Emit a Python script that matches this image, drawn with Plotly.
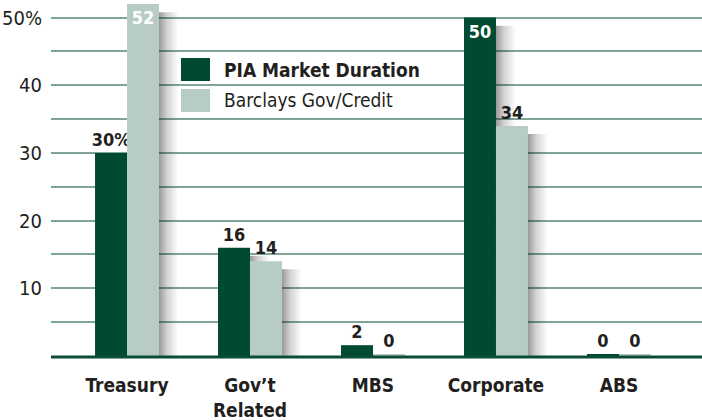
import plotly.graph_objects as go

categories = ["Treasury", "Gov’t<br>Related", "MBS", "Corporate", "ABS"]
pia_values = [30, 16, 1.6, 50, 0.3]
barclays_values = [52, 14, 0.3, 34, 0.3]
pia_labels = ["30%", "16", "2", "50", "0"]
barclays_labels = ["52", "14", "0", "34", "0"]
pia_pos = ["outside", "outside", "outside", "inside", "outside"]
barclays_pos = ["inside", "outside", "outside", "outside", "outside"]
y_tickvals = [5, 10, 15, 20, 25, 30, 35, 40, 45, 50]
y_ticktext = ["", "10", "", "20", "", "30", "", "40", "", "50%"]

DARK = "#004a33"
LIGHT = "#b7ccc5"
TXT = "#231f20"
FONT = "Liberation Sans Narrow, DejaVu Sans Condensed, sans-serif"
BARGAP = 0.48
xpos = list(range(len(categories)))
half = (1 - BARGAP) / 2  # half of a bar pair, in category units

fig = go.Figure()

# soft drop shadows to the right of the bars (derived from the data)
SH_W = 0.16
SH_DROP = 1.2
shade = [[0, "rgba(0,0,0,0.40)"], [0.4, "rgba(0,0,0,0.18)"], [1, "rgba(0,0,0,0)"]]
for i in xpos:
    top = barclays_values[i] - SH_DROP
    if top > 0.5:
        x0 = i + half
        fig.add_trace(go.Scatter(
            x=[x0, x0 + SH_W, x0 + SH_W, x0, x0], y=[0, 0, top, top, 0],
            mode="lines", line=dict(width=0), fill="toself",
            fillgradient=dict(type="horizontal", colorscale=shade, start=x0, stop=x0 + SH_W),
            hoverinfo="skip", showlegend=False))
    top = pia_values[i] - SH_DROP
    if top > barclays_values[i]:
        x0 = i
        fig.add_trace(go.Scatter(
            x=[x0, x0 + SH_W, x0 + SH_W, x0, x0],
            y=[barclays_values[i]] * 2 + [top, top, barclays_values[i]],
            mode="lines", line=dict(width=0), fill="toself",
            fillgradient=dict(type="horizontal", colorscale=shade, start=x0, stop=x0 + SH_W),
            hoverinfo="skip", showlegend=False))

fig.add_trace(go.Bar(
    x=xpos, y=pia_values, name="PIA Market Duration",
    marker=dict(color=DARK, line=dict(width=0)),
    text=pia_labels, textposition=pia_pos, insidetextanchor="end",
    textangle=0, constraintext="none", cliponaxis=False,
    insidetextfont=dict(color="white", size=18, family=FONT, weight="bold"),
    outsidetextfont=dict(color=TXT, size=18, family=FONT, weight="bold"),
    hoverinfo="skip",
))
fig.add_trace(go.Bar(
    x=xpos, y=barclays_values, name="Barclays Gov/Credit",
    marker=dict(color=LIGHT, line=dict(width=0)),
    text=barclays_labels, textposition=barclays_pos, insidetextanchor="end",
    textangle=0, constraintext="none", cliponaxis=False,
    insidetextfont=dict(color="white", size=18, family=FONT, weight="bold"),
    outsidetextfont=dict(color=TXT, size=18, family=FONT, weight="bold"),
    hoverinfo="skip",
))

# legend drawn manually (large swatches)
legend_items = [("<b>PIA Market Duration</b>", DARK), ("Barclays Gov/Credit", LIGHT)]
shapes = []
annotations = []
for i, (label, col) in enumerate(legend_items):
    y0 = 1 - (58 + i * 31) / 356
    y1 = 1 - (81 + i * 31) / 356
    shapes.append(dict(type="rect", xref="paper", yref="paper",
                       x0=(181 - 51) / 651, x1=(210 - 51) / 651, y0=y1, y1=y0,
                       fillcolor=col, line=dict(width=0), layer="above"))
    annotations.append(dict(xref="paper", yref="paper", x=(222 - 51) / 651,
                            y=(y0 + y1) / 2, text=label, showarrow=False,
                            xanchor="left", yanchor="middle",
                            font=dict(size=19, color=TXT, family=FONT)))
# baseline (paper-referenced so it is not clipped)
shapes.append(dict(type="line", xref="paper", yref="paper", x0=0, x1=1,
                   y0=-0.003, y1=-0.003,
                   line=dict(color="#0b4d35", width=3), layer="above"))

fig.update_layout(
    width=702, height=420,
    margin=dict(l=51, r=0, t=0, b=64),
    paper_bgcolor="white", plot_bgcolor="white",
    barmode="group", bargap=BARGAP, bargroupgap=0,
    showlegend=False,
    shapes=shapes, annotations=annotations,
    xaxis=dict(range=[-0.618, 4.675], tickvals=xpos, ticktext=categories,
               showgrid=False, zeroline=False, automargin=False,
               showline=False, ticks="outside", ticklen=12, tickcolor="rgba(0,0,0,0)",
               tickfont=dict(size=19, color=TXT, family=FONT, weight="bold")),
    yaxis=dict(range=[0, 52.6], tickvals=y_tickvals, ticktext=y_ticktext, automargin=False,
               showgrid=True, gridcolor="#7fa596", gridwidth=2, zeroline=False,
               showline=False, ticks="", ticklabelstandoff=8,
               tickfont=dict(size=20, color=TXT, family=FONT)),
)
fig.write_html("out.html", config={"displayModeBar": False},
               post_script="document.body.style.margin='0';")
